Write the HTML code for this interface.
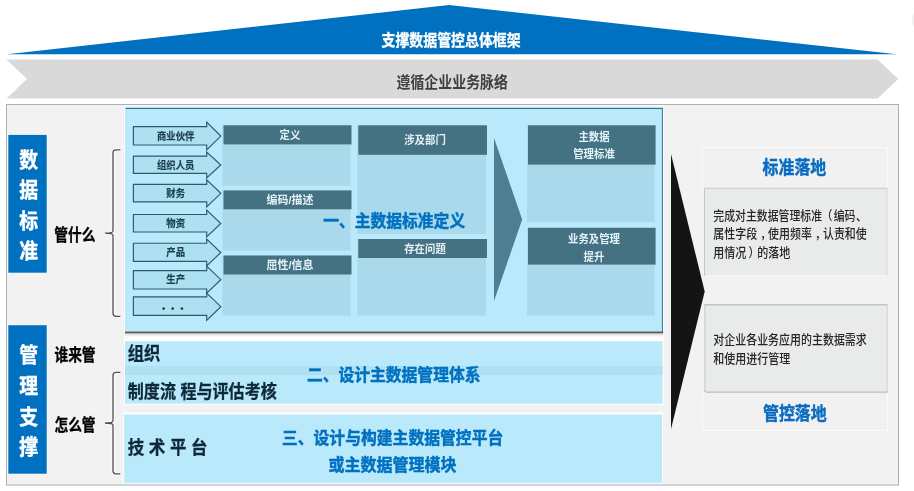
<!DOCTYPE html>
<html lang="zh-CN"><head><meta charset="utf-8"><title>支撑数据管控总体框架</title>
<style>html,body{margin:0;padding:0;background:#fff;overflow:hidden}svg{display:block;will-change:transform;font-family:'Liberation Sans','Noto Sans CJK SC',sans-serif}</style>
</head><body>
<svg width="914" height="491" viewBox="0 0 914 491">
<rect width="914" height="491" fill="#ffffff"/>
<ellipse cx="922" cy="20" rx="10" ry="13" fill="#eeeeee"/>
<polygon points="7,54.3 449,5 897,54.3" fill="#0070c0"/>
<polygon points="6.5,59.5 877.6,59.5 898.2,79 877.6,98.6 6.5,98.6 27,79" fill="#d9d9d9"/>
<rect x="6.5" y="104.5" width="892" height="380.5" fill="#f2f2f2" stroke="#a9b1b1" stroke-width="1"/>
<rect x="7.5" y="134" width="40" height="139.4" fill="#fbf8f5"/>
<rect x="7.5" y="324.4" width="40" height="150.1" fill="#fbf8f5"/>
<rect x="8.3" y="134.9" width="38.4" height="137.8" fill="#0070c0"/>
<rect x="8.3" y="325.2" width="38.4" height="148.5" fill="#0070c0"/>
<text x="28.8" y="167.5" font-size="21" font-weight="700" fill="#ffffff" text-anchor="middle" transform="translate(28.8 0) scale(0.9 1) translate(-28.8 0)" stroke="#ffffff" stroke-width="0.4" stroke-linejoin="round"><tspan x="28.8" y="167.5">数</tspan><tspan x="28.8" y="197.3">据</tspan><tspan x="28.8" y="228.3">标</tspan><tspan x="28.8" y="257.8">准</tspan></text>
<text x="28.8" y="362.3" font-size="21" font-weight="700" fill="#ffffff" text-anchor="middle" transform="translate(28.8 0) scale(0.9 1) translate(-28.8 0)" stroke="#ffffff" stroke-width="0.4" stroke-linejoin="round"><tspan x="28.8" y="362.3">管</tspan><tspan x="28.8" y="393.3">理</tspan><tspan x="28.8" y="423.8">支</tspan><tspan x="28.8" y="454.3">撑</tspan></text>
<text x="54.2" y="241.2" font-size="16.5" font-weight="700" fill="#000000" text-anchor="start" textLength="41.2" lengthAdjust="spacingAndGlyphs" stroke="#000000" stroke-width="0.3" stroke-linejoin="round">管什么</text>
<text x="54.4" y="361" font-size="16.5" font-weight="700" fill="#000000" text-anchor="start" textLength="41.2" lengthAdjust="spacingAndGlyphs" stroke="#000000" stroke-width="0.3" stroke-linejoin="round">谁来管</text>
<text x="54.4" y="431.3" font-size="16.5" font-weight="700" fill="#000000" text-anchor="start" textLength="41.2" lengthAdjust="spacingAndGlyphs" stroke="#000000" stroke-width="0.3" stroke-linejoin="round">怎么管</text>
<path d="M120.3,149.8 H116 Q113,149.8 113,152.8 V231.0 Q113,233.2 105,233.2 Q113,233.2 113,235.39999999999998 V313.3 Q113,316.3 116,316.3 H120.3" fill="none" stroke="#ffffff" stroke-width="3" stroke-opacity="0.9"/>
<path d="M120.3,149.8 H116 Q113,149.8 113,152.8 V231.0 Q113,233.2 105,233.2 Q113,233.2 113,235.39999999999998 V313.3 Q113,316.3 116,316.3 H120.3" fill="none" stroke="#4d4d4d" stroke-width="1.3"/>
<path d="M120.3,372.4 H116 Q113,372.4 113,375.4 V420.8 Q113,423 105,423 Q113,423 113,425.2 V470.8 Q113,473.8 116,473.8 H120.3" fill="none" stroke="#ffffff" stroke-width="3" stroke-opacity="0.9"/>
<path d="M120.3,372.4 H116 Q113,372.4 113,375.4 V420.8 Q113,423 105,423 Q113,423 113,425.2 V470.8 Q113,473.8 116,473.8 H120.3" fill="none" stroke="#4d4d4d" stroke-width="1.3"/>
<rect x="124" y="105.4" width="540" height="236" fill="#ffffff" opacity="0.85"/>
<rect x="125" y="106.2" width="537.9" height="225.4" fill="#b9e9fa"/>
<rect x="125" y="106.2" width="537.9" height="1.6" fill="#dff5fd"/>
<rect x="125.6" y="107.9" width="537.3" height="1" fill="#2d5f75"/>
<rect x="661.9" y="108" width="1" height="224" fill="#3f7389"/>
<rect x="125" y="331.5" width="538.2" height="2.1" fill="#5e5a58"/>
<rect x="125" y="333.6" width="538.2" height="1.2" fill="#d9d9d9"/>
<rect x="125" y="334.8" width="538.2" height="1.4" fill="#efefef"/>
<polygon points="133.4,126.6 206.7,126.6 206.7,122.2 220.8,136.1 206.7,150 206.7,145 133.4,145" fill="#ade0f1" stroke="#2b5b6d" stroke-width="1.15" stroke-linejoin="miter"/>
<text x="175.7" y="139.9" font-size="10.3" font-weight="700" fill="#1b3f50" text-anchor="middle" textLength="37.4" lengthAdjust="spacingAndGlyphs" stroke="#1b3f50" stroke-width="0.2" stroke-linejoin="round">商业伙伴</text>
<polygon points="133.4,156.1 206.7,156.1 206.7,152 220.8,165.0 206.7,178 206.7,173.3 133.4,173.3" fill="#ade0f1" stroke="#2b5b6d" stroke-width="1.15" stroke-linejoin="miter"/>
<text x="175.7" y="168.8" font-size="10.3" font-weight="700" fill="#1b3f50" text-anchor="middle" textLength="37.4" lengthAdjust="spacingAndGlyphs" stroke="#1b3f50" stroke-width="0.2" stroke-linejoin="round">组织人员</text>
<polygon points="133.4,184.3 206.7,184.3 206.7,179.9 220.8,193.35000000000002 206.7,206.8 206.7,201.9 133.4,201.9" fill="#ade0f1" stroke="#2b5b6d" stroke-width="1.15" stroke-linejoin="miter"/>
<text x="175.7" y="197.15000000000003" font-size="10.3" font-weight="700" fill="#1b3f50" text-anchor="middle" textLength="18.7" lengthAdjust="spacingAndGlyphs" stroke="#1b3f50" stroke-width="0.2" stroke-linejoin="round">财务</text>
<polygon points="133.4,214.5 206.7,214.5 206.7,210 220.8,223.5 206.7,237 206.7,232 133.4,232" fill="#ade0f1" stroke="#2b5b6d" stroke-width="1.15" stroke-linejoin="miter"/>
<text x="175.7" y="227.3" font-size="10.3" font-weight="700" fill="#1b3f50" text-anchor="middle" textLength="18.7" lengthAdjust="spacingAndGlyphs" stroke="#1b3f50" stroke-width="0.2" stroke-linejoin="round">物资</text>
<polygon points="133.4,243.2 206.7,243.2 206.7,239 220.8,252.5 206.7,266 206.7,261.3 133.4,261.3" fill="#ade0f1" stroke="#2b5b6d" stroke-width="1.15" stroke-linejoin="miter"/>
<text x="175.7" y="256.3" font-size="10.3" font-weight="700" fill="#1b3f50" text-anchor="middle" textLength="18.7" lengthAdjust="spacingAndGlyphs" stroke="#1b3f50" stroke-width="0.2" stroke-linejoin="round">产品</text>
<polygon points="133.4,270.6 206.7,270.6 206.7,266.2 220.8,279.65 206.7,293.1 206.7,289 133.4,289" fill="#ade0f1" stroke="#2b5b6d" stroke-width="1.15" stroke-linejoin="miter"/>
<text x="175.7" y="283.45" font-size="10.3" font-weight="700" fill="#1b3f50" text-anchor="middle" textLength="18.7" lengthAdjust="spacingAndGlyphs" stroke="#1b3f50" stroke-width="0.2" stroke-linejoin="round">生产</text>
<polygon points="133.4,296.9 206.7,296.9 206.7,293 220.8,306.65 206.7,320.3 206.7,315.4 133.4,315.4" fill="#ade0f1" stroke="#2b5b6d" stroke-width="1.15" stroke-linejoin="miter"/>
<text x="161.3 166 170.3 175 179.4" y="309.9" font-size="15" font-weight="700" fill="#1b3f50" style="font-family:'Noto Sans CJK SC',sans-serif">. . .</text>
<rect x="222.5" y="125.3" width="128.0" height="60.6" fill="#a9d9ea"/>
<rect x="223.5" y="125.3" width="128.0" height="19.1" fill="#457283"/>
<text x="290" y="138.8" font-size="11" font-weight="700" fill="#e4f3f9" text-anchor="middle" textLength="20.8" lengthAdjust="spacingAndGlyphs">定义</text>
<rect x="222.5" y="190.4" width="128.0" height="60.1" fill="#a9d9ea"/>
<rect x="223.5" y="190.4" width="128.0" height="18.9" fill="#457283"/>
<text x="290" y="203.8" font-size="11" font-weight="700" fill="#e4f3f9" text-anchor="middle" textLength="46.8" lengthAdjust="spacingAndGlyphs">编码/描述</text>
<rect x="222.5" y="255.5" width="128.0" height="60.1" fill="#a9d9ea"/>
<rect x="223.5" y="255.5" width="128.0" height="19.0" fill="#457283"/>
<text x="290" y="269" font-size="11" font-weight="700" fill="#e4f3f9" text-anchor="middle" textLength="46.8" lengthAdjust="spacingAndGlyphs">屈性/信息</text>
<rect x="357.3" y="125.3" width="128.7" height="108.7" fill="#a9d9ea"/>
<rect x="358.3" y="125.3" width="128.7" height="29.5" fill="#457283"/>
<text x="425" y="144" font-size="11" font-weight="700" fill="#e4f3f9" text-anchor="middle" textLength="41.6" lengthAdjust="spacingAndGlyphs">涉及部门</text>
<rect x="357.3" y="239" width="128.7" height="76.6" fill="#a9d9ea"/>
<rect x="358.3" y="239" width="128.7" height="19.0" fill="#457283"/>
<text x="425" y="252.5" font-size="11" font-weight="700" fill="#e4f3f9" text-anchor="middle" textLength="41.6" lengthAdjust="spacingAndGlyphs">存在问题</text>
<rect x="527.0" y="125.3" width="127.6" height="96.7" fill="#a9d9ea"/>
<rect x="528" y="125.3" width="127.6" height="39.3" fill="#457283"/>
<text x="594" y="140.8" font-size="11" font-weight="700" fill="#e4f3f9" text-anchor="middle" textLength="31.2" lengthAdjust="spacingAndGlyphs">主数据</text>
<text x="594" y="158.4" font-size="11" font-weight="700" fill="#e4f3f9" text-anchor="middle" textLength="41.6" lengthAdjust="spacingAndGlyphs">管理标准</text>
<rect x="527.0" y="227.8" width="127.6" height="87.8" fill="#a9d9ea"/>
<rect x="528" y="227.8" width="127.6" height="36.8" fill="#457283"/>
<text x="594" y="242.8" font-size="11" font-weight="700" fill="#e4f3f9" text-anchor="middle" textLength="52.0" lengthAdjust="spacingAndGlyphs">业务及管理</text>
<text x="594" y="260.5" font-size="11" font-weight="700" fill="#e4f3f9" text-anchor="middle" textLength="20.8" lengthAdjust="spacingAndGlyphs">提升</text>
<polygon points="494,138 522.2,219.5 494,301" fill="#4e7e90"/>
<text x="323.2" y="226.9" font-size="17.3" font-weight="700" fill="#0070c0" text-anchor="start" textLength="142" lengthAdjust="spacingAndGlyphs" stroke="#0070c0" stroke-width="0.45" stroke-linejoin="round">一、主数据标准定义</text>
<rect x="124" y="340" width="539.6" height="64.8" fill="#ffffff" opacity="0.85"/>
<rect x="125" y="341.2" width="537.5" height="62.5" fill="#b9e9fa"/>
<rect x="125" y="366" width="537.5" height="9" fill="#afe1f3"/>
<text x="127.8" y="359.9" font-size="18" font-weight="700" fill="#0e2a3a" text-anchor="start" textLength="32.6" lengthAdjust="spacingAndGlyphs" stroke="#0e2a3a" stroke-width="0.3" stroke-linejoin="round">组织</text>
<text x="127.8" y="398" font-size="18" font-weight="700" fill="#0e2a3a" text-anchor="start" textLength="149" lengthAdjust="spacingAndGlyphs" stroke="#0e2a3a" stroke-width="0.3" stroke-linejoin="round">制度流 程与评估考核</text>
<text x="306.9" y="380.9" font-size="17.3" font-weight="700" fill="#0070c0" text-anchor="start" textLength="173.6" lengthAdjust="spacingAndGlyphs" stroke="#0070c0" stroke-width="0.45" stroke-linejoin="round">二、设计主数据管理体系</text>
<rect x="123.4" y="412.4" width="539.4" height="71.2" fill="#ffffff" opacity="0.9"/>
<rect x="124.2" y="414.5" width="537.7" height="68.3" fill="#b9e9fa"/>
<text x="127.8" y="453.6" font-size="18" font-weight="700" fill="#0e2a3a" text-anchor="start" textLength="79.6" lengthAdjust="spacingAndGlyphs" stroke="#0e2a3a" stroke-width="0.3" stroke-linejoin="round">技 术 平 台</text>
<text x="281.9" y="443.9" font-size="17.3" font-weight="700" fill="#0070c0" text-anchor="start" textLength="221.4" lengthAdjust="spacingAndGlyphs" stroke="#0070c0" stroke-width="0.45" stroke-linejoin="round">三、设计与构建主数据管控平台</text>
<text x="328.5" y="470.8" font-size="17.3" font-weight="700" fill="#0070c0" text-anchor="start" textLength="128" lengthAdjust="spacingAndGlyphs" stroke="#0070c0" stroke-width="0.45" stroke-linejoin="round">或主数据管理模块</text>
<polygon points="671,154 704.7,291.5 671,429" fill="#141414"/>
<rect x="702.6" y="147.6" width="185" height="41" fill="#f1f1f1" stroke="#fbfbfb" stroke-width="1"/>
<rect x="702.6" y="392.6" width="185" height="37.8" fill="#f1f1f1" stroke="#fbfbfb" stroke-width="1"/>
<rect x="704.5" y="188.3" width="183" height="87.6" fill="#e9ebeb" stroke="#fbfbfb" stroke-width="1"/>
<path d="M704.5,276 V188.3 H887.5" fill="none" stroke="#c3c9c9" stroke-width="1"/>
<rect x="704.5" y="304.8" width="183" height="87.6" fill="#e9ebeb" stroke="#fbfbfb" stroke-width="1"/>
<path d="M704.8,391 V304.8" fill="none" stroke="#c0c7c7" stroke-width="1"/>
<path d="M887.2,305 V392" fill="none" stroke="#c9cece" stroke-width="1"/>
<path d="M887.2,189 V275.5" fill="none" stroke="#d6dada" stroke-width="1"/>
<path d="M704.5,304.8 H887.5" fill="none" stroke="#9fb0b4" stroke-width="1"/>
<path d="M704.8,390 Q704.8,392.2 707,392.2 H887.5" fill="none" stroke="#b4bcbc" stroke-width="1.2"/>
<text x="762.6" y="174" font-size="18.5" font-weight="700" fill="#0a6cc0" text-anchor="start" textLength="63.7" lengthAdjust="spacingAndGlyphs" stroke="#0a6cc0" stroke-width="0.45" stroke-linejoin="round">标准落地</text>
<text x="763" y="419.8" font-size="18.5" font-weight="700" fill="#0a6cc0" text-anchor="start" textLength="63.7" lengthAdjust="spacingAndGlyphs" stroke="#0a6cc0" stroke-width="0.45" stroke-linejoin="round">管控落地</text>
<text x="713.3" y="219.6" font-size="12.7" font-weight="500" fill="#262626" text-anchor="start" textLength="153.5" lengthAdjust="spacingAndGlyphs">完成对主数据管理标准<tspan dx="-0.5">（</tspan><tspan dx="1.5">编码</tspan><tspan dx="0.5">、</tspan></text>
<text x="713.3" y="238.3" font-size="12.7" font-weight="500" fill="#262626" text-anchor="start" textLength="153.5" lengthAdjust="spacingAndGlyphs">属性字段<tspan dx="3.5">，</tspan><tspan dx="-3.5">使用频率</tspan><tspan dx="3.5">，</tspan><tspan dx="-3.5">认责和使</tspan></text>
<text x="713.3" y="257" font-size="12.7" font-weight="500" fill="#262626" text-anchor="start" textLength="77" lengthAdjust="spacingAndGlyphs">用情况<tspan dx="2.5">）</tspan><tspan dx="-2.5">的落地</tspan></text>
<text x="713.3" y="344.4" font-size="12.7" font-weight="500" fill="#262626" text-anchor="start" textLength="153.5" lengthAdjust="spacingAndGlyphs">对企业各业务应用的主数据需求</text>
<text x="713.3" y="363.3" font-size="12.7" font-weight="500" fill="#262626" text-anchor="start" textLength="77" lengthAdjust="spacingAndGlyphs">和使用进行管理</text>
<text x="381.5" y="45.5" font-size="16.3" font-weight="700" fill="#ffffff" text-anchor="start" textLength="139.2" lengthAdjust="spacingAndGlyphs" stroke="#ffffff" stroke-width="0.3" stroke-linejoin="round">支撑数据管控总体框架</text>
<text x="396.5" y="87.7" font-size="16" font-weight="700" fill="#404040" text-anchor="start" textLength="111.5" lengthAdjust="spacingAndGlyphs">遵循企业业务脉络</text>
</svg></body></html>
